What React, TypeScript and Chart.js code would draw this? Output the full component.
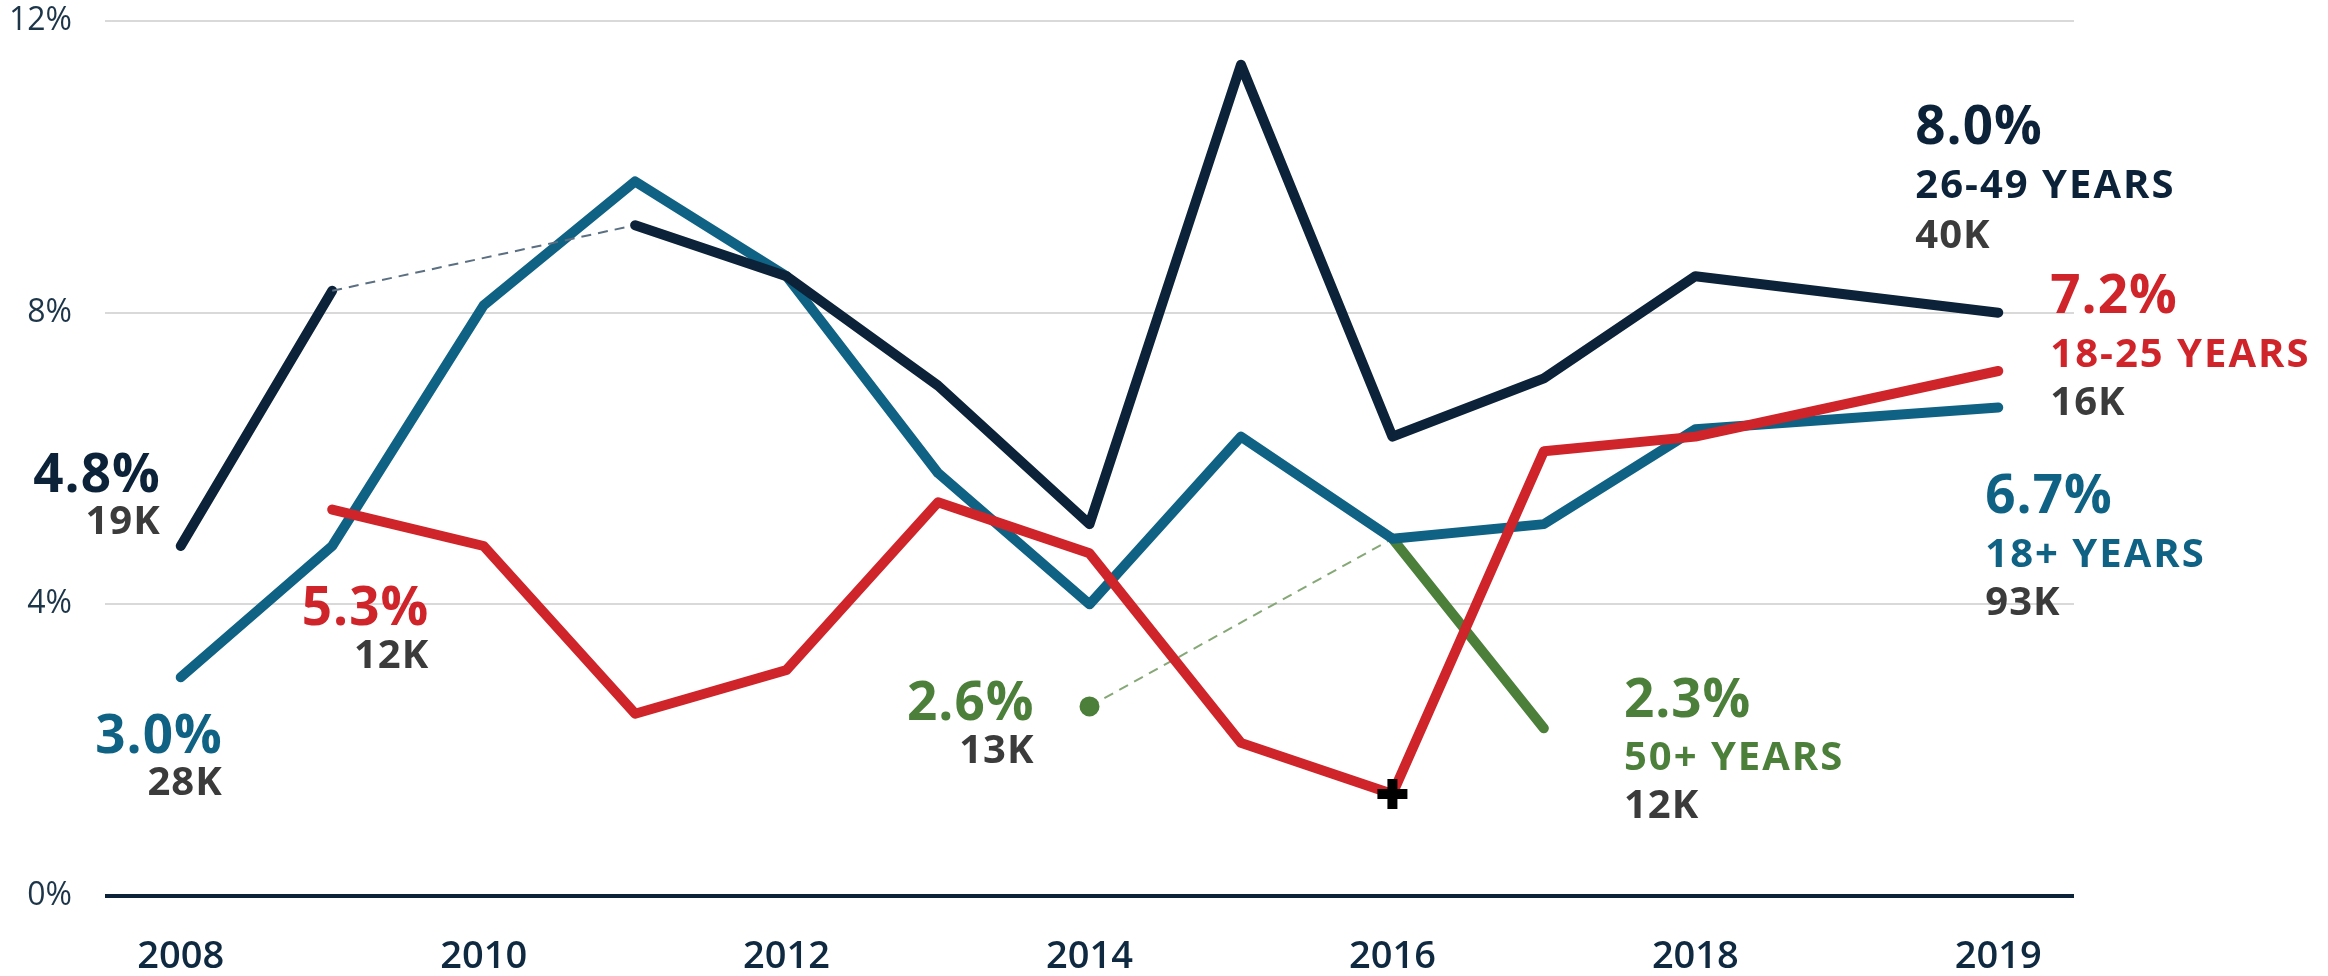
import React, { useEffect, useRef } from 'react';
import { Chart, registerables } from 'chart.js';

Chart.register(...registerables);

// ---- Data ----
// Axis slots (2019 sits two slots after 2018 in the reference layout)
const axisCategories = ['2008', '2009', '2010', '2011', '2012', '2013', '2014', '2015', '2016', '2017', '2018', '', '2019'];
const years = ['2008', '2009', '2010', '2011', '2012', '2013', '2014', '2015', '2016', '2017', '2018', '2019'];
const yTickValues = [0, 4, 8, 12];

const age26to49 = [4.8, 8.3, null, 9.2, 8.5, 7.0, 5.1, 11.4, 6.3, 7.1, 8.5, 8.0];
const age18to25 = [null, 5.3, 4.8, 2.5, 3.1, 5.4, 4.7, 2.1, 1.4, 6.1, 6.3, 7.2];
const age18plus = [3.0, 4.8, 8.1, 9.8, 8.5, 5.8, 4.0, 6.3, 4.9, 5.1, 6.4, 6.7];
const age50plus = [null, null, null, null, null, null, 2.6, null, 4.9, 2.3, null, null];

const seriesNames = ['26-49 YEARS', '18-25 YEARS', '18+ YEARS', '50+ YEARS'];
const startCounts = ['19K', '12K', '28K', '13K'];
const endCounts = ['40K', '16K', '93K', '12K'];
const markedYear18to25 = '2016';
const markedYear50plus = '2014';

// ---- Style ----
const NAVY = '#0b2239';
const RED = '#cf2429';
const TEAL = '#0f6283';
const GREEN = '#4b7f3a';
const GRAY_TEXT = '#3b3b3b';
const FONT = "'Open Sans', 'Noto Sans', sans-serif";

const seriesColors = [NAVY, RED, TEAL, GREEN];
const gapColors = ['#5b6f82', '#e08080', '#6f9ab0', '#86a877'];

// callout placement (pixel offsets from the first / last point)
const startLayout = [
  { dx: -20, dys: [-54, -12] },
  { dx: 97, dys: [115, 158] },
  { dx: 42, dys: [76, 118] },
  { dx: -55, dys: [14, 57] },
];
const endLayout = [
  { dx: -83, dys: [-169, -115, -65] },
  { dx: 52, dys: [-58, -4, 44] },
  { dx: -13, dys: [106, 160, 208] },
  { dx: 80, dys: [-11, 42, 90] },
];

const seriesValues = [age26to49, age18to25, age18plus, age50plus];

const toPoints = (vals: (number | null)[]) => years.map((y, i) => ({ x: y, y: vals[i] }));

const isGap = (ctx: any) => ctx.p0.skip || ctx.p1.skip;

function setFont(ctx: any, size: number, spacing: number) {
  ctx.font = `700 ${size}px ${FONT}`;
  try {
    ctx.letterSpacing = `${spacing}px`;
  } catch (e) {
    /* ignore */
  }
}

const calloutPlugin = {
  id: 'callouts',
  afterDatasetsDraw(chart: any) {
    const { ctx, scales } = chart;
    const xs = scales.x;
    const ys = scales.y;
    const px = (year: string) => xs.getPixelForValue(axisCategories.indexOf(year));
    ctx.save();
    ctx.textBaseline = 'alphabetic';
    seriesValues.forEach((vals, s) => {
      const firstIdx = vals.findIndex((v) => v !== null);
      let lastIdx = vals.length - 1;
      while (vals[lastIdx] === null) lastIdx--;
      const fv = vals[firstIdx] as number;
      const lv = vals[lastIdx] as number;

      // start callout (right aligned)
      const sx = px(years[firstIdx]) + startLayout[s].dx;
      const sy = ys.getPixelForValue(fv);
      ctx.textAlign = 'right';
      ctx.fillStyle = seriesColors[s];
      setFont(ctx, 53, 1);
      ctx.fillText(fv.toFixed(1) + '%', sx, sy + startLayout[s].dys[0]);
      ctx.fillStyle = GRAY_TEXT;
      setFont(ctx, 40, 1);
      ctx.fillText(startCounts[s], sx, sy + startLayout[s].dys[1]);

      // end callout (left aligned)
      const ex = px(years[lastIdx]) + endLayout[s].dx;
      const ey = ys.getPixelForValue(lv);
      ctx.textAlign = 'left';
      ctx.fillStyle = seriesColors[s];
      setFont(ctx, 53, 1);
      ctx.fillText(lv.toFixed(1) + '%', ex, ey + endLayout[s].dys[0]);
      setFont(ctx, 40, 2);
      ctx.fillText(seriesNames[s], ex, ey + endLayout[s].dys[1]);
      ctx.fillStyle = GRAY_TEXT;
      setFont(ctx, 40, 1);
      ctx.fillText(endCounts[s], ex, ey + endLayout[s].dys[2]);
    });
    ctx.restore();
  },
};

function makeDataset(s: number) {
  return {
    label: seriesNames[s],
    data: toPoints(seriesValues[s]),
    borderColor: seriesColors[s],
    backgroundColor: seriesColors[s],
    borderWidth: 10,
    borderCapStyle: 'round',
    borderJoinStyle: 'round',
    tension: 0,
    fill: false,
    spanGaps: true,
    pointRadius: 0,
    pointHitRadius: 0,
    segment: {
      borderDash: (ctx: any) => (isGap(ctx) ? [10, 7] : undefined),
      borderWidth: (ctx: any) => (isGap(ctx) ? 2 : undefined),
      borderColor: (ctx: any) => (isGap(ctx) ? gapColors[s] : undefined),
      borderCapStyle: (ctx: any) => (isGap(ctx) ? 'butt' : undefined),
    },
  } as any;
}

export default function App() {
  const canvasRef = useRef<HTMLCanvasElement | null>(null);

  useEffect(() => {
    if (!canvasRef.current) return;
    const navyDs = makeDataset(0);
    const redDs = makeDataset(1);
    redDs.pointStyle = 'cross';
    redDs.pointRadius = (c: any) => (years[c.dataIndex] === markedYear18to25 ? 15 : 0);
    redDs.pointBorderWidth = 10;
    redDs.pointBorderColor = '#000000';
    const tealDs = makeDataset(2);
    const greenDs = makeDataset(3);
    greenDs.pointRadius = (c: any) => (years[c.dataIndex] === markedYear50plus ? 9 : 0);
    greenDs.pointBorderWidth = 2;
    greenDs.pointBorderColor = GREEN;
    greenDs.pointBackgroundColor = GREEN;

    const chart = new Chart(canvasRef.current, {
      type: 'line',
      data: { labels: axisCategories, datasets: [navyDs, redDs, tealDs, greenDs] },
      options: {
        animation: false,
        responsive: true,
        maintainAspectRatio: false,
        events: [],
        layout: { padding: { left: 0, right: 254, top: 21, bottom: 0 } },
        plugins: { legend: { display: false }, tooltip: { enabled: false } },
        scales: {
          x: {
            type: 'category',
            offset: true,
            grid: { display: false, drawTicks: false },
            border: { display: false },
            ticks: {
              autoSkip: false,
              maxRotation: 0,
              padding: 38,
              color: '#0f2a40',
              font: { family: FONT, size: 38, weight: '600' },
              callback: (_v: any, i: number) => (i % 2 === 0 ? axisCategories[i] : ''),
            },
            afterFit: (scale: any) => {
              scale.height = 80;
              scale.paddingLeft = 0;
              scale.paddingRight = 0;
            },
          },
          y: {
            min: 0,
            max: 12,
            afterBuildTicks: (scale: any) => {
              scale.ticks = yTickValues.map((v) => ({ value: v }));
            },
            grid: {
              drawTicks: false,
              color: (c: any) => (c.tick && c.tick.value === 0 ? NAVY : '#d9d9d9'),
              lineWidth: (c: any) => (c.tick && c.tick.value === 0 ? 4 : 2),
            },
            border: { display: false },
            ticks: {
              padding: 33,
              color: '#1d3549',
              font: { family: FONT, size: 32, weight: '400' },
              callback: (v: any) => v + '%',
            },
            afterFit: (scale: any) => {
              scale.width = 105;
              scale.paddingTop = 0;
              scale.paddingBottom = 0;
            },
          },
        },
      } as any,
      plugins: [calloutPlugin],
    });
    return () => chart.destroy();
  }, []);

  return (
    <div style={{ position: 'absolute', left: 0, top: 0, width: 2328, height: 976, background: '#ffffff' }}>
      <canvas ref={canvasRef} style={{ display: 'block' }} />
    </div>
  );
}
